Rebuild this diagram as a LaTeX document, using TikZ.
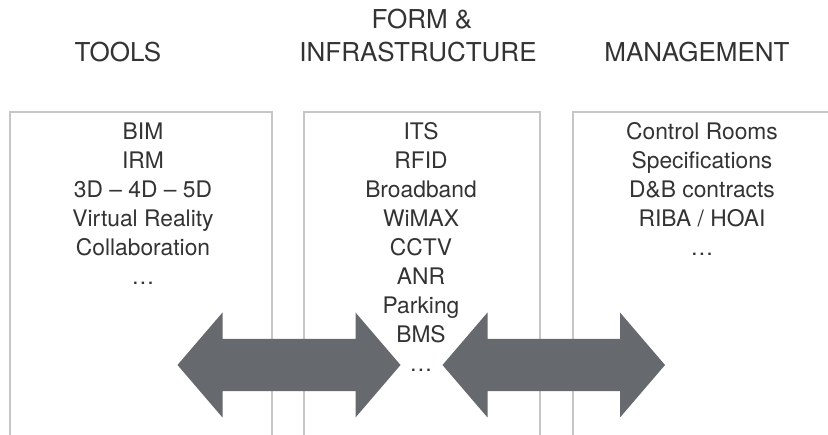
\documentclass[tikz,border=0pt]{standalone}
\usepackage{fontspec}
\setmainfont{TeX Gyre Heros}
\usetikzlibrary{calc}
\definecolor{txt}{HTML}{333333}
\definecolor{boxline}{HTML}{C6C6C8}
\definecolor{arrowfill}{HTML}{66696D}
\tikzset{
  heading/.style={anchor=base, inner sep=0pt, text=txt, font=\fontsize{26}{33}\selectfont},
  item/.style={anchor=base, inner sep=0pt, text=txt, font=\fontsize{22.8}{29}\selectfont},
  colbox/.style={draw=boxline, line width=1.2pt},
  bigarrow/.style={fill=arrowfill, draw=none}
}
\newcommand{\dblarrow}[2]{%
  \fill[bigarrow] (#1) -- ($(#1)+(45,-52.5)$) -- ($(#1)+(45,-26.2)$)
    -- ($(#2)+(-45,-26.2)$) -- ($(#2)+(-45,-52.5)$) -- (#2)
    -- ($(#2)+(-45,52.5)$) -- ($(#2)+(-45,26.2)$)
    -- ($(#1)+(45,26.2)$) -- ($(#1)+(45,52.5)$) -- cycle;}
\begin{document}
\begin{tikzpicture}[x=1pt,y=-1pt]
\useasboundingbox[fill=white] (0,0) rectangle (828,435);
% column frames (open at the bottom, right one runs off the page)
\draw[colbox] (10,436) -- (10,112) -- (272,112) -- (272,436);
\draw[colbox] (304,436) -- (304,112) -- (540,112) -- (540,436);
\draw[colbox] (573,436) -- (573,112) -- (829,112);
% headings
\node[heading] (h1) at (118,62) {TOOLS};
\node[heading] (h2a) at (422,29) {FORM \&};
\node[heading] (h2b) at (418,62) {INFRASTRUCTURE};
\node[heading] (h3) at (697,62) {MANAGEMENT};
% items
\foreach \t [count=\i] in {BIM, IRM, 3D – 4D – 5D, Virtual Reality, Collaboration, …}
  \node[item] (l\i) at (143,{139.5+29*(\i-1)}) {\t};
\foreach \t [count=\i] in {ITS, RFID, Broadband, WiMAX, CCTV, ANR, Parking, BMS, …}
  \node[item] (m\i) at (421,{139.5+29*(\i-1)}) {\t};
\foreach \t [count=\i] in {Control Rooms, Specifications, D\&B contracts, RIBA / HOAI, …}
  \node[item] (r\i) at (702,{139.5+29*(\i-1)}) {\t};
% double arrows
\coordinate (a1l) at (177.5,365);
\coordinate (a1r) at (400.5,365);
\coordinate (a2l) at (442.5,365);
\coordinate (a2r) at (665,365);
\dblarrow{a1l}{a1r}
\dblarrow{a2l}{a2r}
\end{tikzpicture}
\end{document}
